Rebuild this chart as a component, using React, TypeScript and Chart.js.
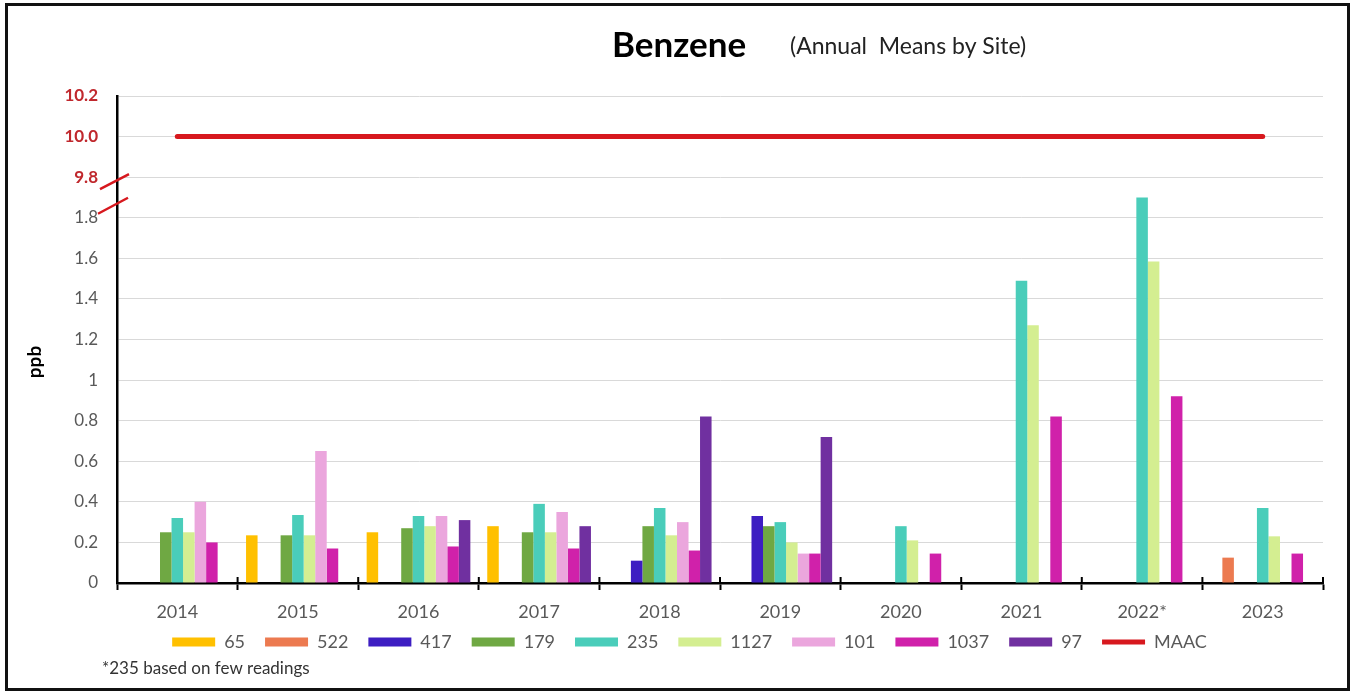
import React, { useEffect, useRef } from "react";
import { Chart, registerables } from "chart.js";

Chart.register(...registerables);

// ---- data ----
const categories = ["2014", "2015", "2016", "2017", "2018", "2019", "2020", "2021", "2022*", "2023"];
const site65 = [null, 0.235, 0.25, 0.28, null, null, null, null, null, null];
const site522 = [null, null, null, null, null, null, null, null, null, 0.125];
const site417 = [null, null, null, null, 0.11, 0.33, null, null, null, null];
const site179 = [0.25, 0.235, 0.27, 0.25, 0.28, 0.28, null, null, null, null];
const site235 = [0.32, 0.335, 0.33, 0.39, 0.37, 0.30, 0.28, 1.49, 1.90, 0.37];
const site1127 = [0.25, 0.235, 0.28, 0.25, 0.235, 0.20, 0.21, 1.27, 1.585, 0.23];
const site101 = [0.40, 0.65, 0.33, 0.35, 0.30, 0.145, null, null, null, null];
const site1037 = [0.20, 0.17, 0.18, 0.17, 0.16, 0.145, 0.145, 0.82, 0.92, 0.145];
const site97 = [null, null, 0.31, 0.28, 0.82, 0.72, null, null, null, null];
const maac = [10, 10, 10, 10, 10, 10, 10, 10, 10, 10];

const seriesNames = ["65", "522", "417", "179", "235", "1127", "101", "1037", "97"];
const seriesData = [site65, site522, site417, site179, site235, site1127, site101, site1037, site97];
const seriesColors = ["#FFC000", "#EC7A50", "#3D1EC2", "#6FA843", "#4ACDBA", "#D4EE91", "#EBA6DD", "#D021AA", "#7030A0"];

// broken axis: 0..1.8 linear, then 9.8 / 10.0 / 10.2 continue above
const lowerTicks = [0, 0.2, 0.4, 0.6, 0.8, 1, 1.2, 1.4, 1.6, 1.8];
const upperTickLabels = ["9.8", "10.0", "10.2"];
const BREAK_LOW = 1.8;
const BREAK_HIGH = 9.8;
const toAxis = (v: number) => (v > BREAK_LOW + 0.2 ? v - (BREAK_HIGH - 2.0) : v);

const TITLE = "Benzene";
const SUBTITLE = "(Annual  Means by Site)";
const Y_TITLE = "ppb";
const FOOTNOTE = "*235 based on few readings";

const RED = "#D7181E";
const GRAY = "#595959";

const decorPlugin = {
  id: "decor",
  afterDraw(chart: any) {
    const { ctx, chartArea, scales } = chart;
    const x = scales.x;
    const y = scales.y;
    ctx.save();
    // title
    ctx.textBaseline = "middle";
    ctx.textAlign = "left";
    ctx.fillStyle = "#000";
    ctx.font = "bold 35px Lato";
    ctx.fillText(TITLE, 612, 46);
    ctx.fillStyle = "#222";
    ctx.font = "23px Lato";
    ctx.fillText(SUBTITLE, 790, 47);
    // y title
    ctx.save();
    ctx.translate(35, 362);
    ctx.rotate(-Math.PI / 2);
    ctx.textAlign = "center";
    ctx.fillStyle = "#000";
    ctx.font = "bold 19px Lato";
    ctx.fillText(Y_TITLE, 0, 0);
    ctx.restore();
    // break marks
    const ax = chartArea.left;
    const y98 = y.getPixelForValue(2.0);
    const y18 = y.getPixelForValue(1.8);
    ctx.strokeStyle = RED;
    ctx.lineWidth = 2.5;
    ctx.lineCap = "butt";
    ctx.beginPath();
    ctx.moveTo(ax - 17, y98 + 12);
    ctx.lineTo(ax + 12, y98 - 3);
    ctx.moveTo(ax - 19, y18 - 4);
    ctx.lineTo(ax + 11, y18 - 20);
    ctx.stroke();
    // inner part of x tick marks
    const n = x.ticks.length;
    const step = x.getPixelForTick(1) - x.getPixelForTick(0);
    ctx.strokeStyle = "#000";
    ctx.lineWidth = 2;
    ctx.beginPath();
    for (let i = 0; i <= n; i++) {
      const px = x.getPixelForTick(0) - step / 2 + i * step;
      ctx.moveTo(px, chartArea.bottom - 6);
      ctx.lineTo(px, chartArea.bottom);
    }
    ctx.stroke();
    // footnote
    ctx.textAlign = "left";
    ctx.textBaseline = "middle";
    ctx.fillStyle = "#333";
    ctx.font = "17px Lato";
    ctx.fillText(FOOTNOTE, 102, 669);
    ctx.restore();
  },
};

export default function App() {
  const ref = useRef<HTMLCanvasElement | null>(null);
  useEffect(() => {
    document.body.style.margin = "0";
    const canvas = ref.current;
    if (!canvas) return;
    Chart.defaults.font.family = "Lato";
    const datasets: any[] = seriesNames.map((name, i) => ({
      type: "bar",
      label: name,
      data: seriesData[i],
      backgroundColor: seriesColors[i],
      borderWidth: 0,
      barPercentage: 1,
      categoryPercentage: 0.86,
    }));
    datasets.push({
      type: "line",
      label: "MAAC",
      data: maac.map(toAxis),
      borderColor: RED,
      backgroundColor: RED,
      borderWidth: 5,
      borderCapStyle: "round",
      pointRadius: 0,
      fill: false,
    });
    const chart = new Chart(canvas, {
      type: "bar",
      data: { labels: categories, datasets },
      plugins: [decorPlugin],
      options: {
        animation: false,
        responsive: false,
        layout: { padding: { top: 96, right: 28, left: 56, bottom: 30 } },
        plugins: {
          title: { display: false },
          tooltip: { enabled: false },
          legend: {
            position: "bottom",
            labels: {
              color: GRAY,
              font: { size: 18 },
              boxWidth: 43,
              boxHeight: 9,
              padding: 20,
              usePointStyle: true,
              pointStyleWidth: 43,
              generateLabels: (c: any) => {
                const items = Chart.defaults.plugins.legend.labels.generateLabels(c);
                return items.map((it: any) => {
                  if (it.text === "MAAC") {
                    return { ...it, pointStyle: "line", lineWidth: 5, strokeStyle: RED, fillStyle: RED };
                  }
                  return { ...it, pointStyle: "rect", lineWidth: 0 };
                });
              },
            },
          },
        },
        scales: {
          x: {
            offset: true,
            grid: {
              display: true,
              drawOnChartArea: false,
              offset: true,
              tickLength: 7,
              tickWidth: 2,
              tickColor: "#000",
            },
            border: { display: true, color: "#000", width: 2.5 },
            ticks: { color: GRAY, font: { size: 18 }, padding: 11, maxRotation: 0 },
            afterFit: (s: any) => {
              s.height = 30;
            },
            afterUpdate: (s: any) => {
              s._computeLabelArea = () => undefined;
            },
          },
          y: {
            min: 0,
            max: 2.4,
            afterBuildTicks: (s: any) => {
              const t = lowerTicks.map((v) => ({ value: v }));
              upperTickLabels.forEach((_, i) => t.push({ value: 2.0 + 0.2 * i }));
              s.ticks = t;
            },
            grid: { color: "#D9D9D9", lineWidth: 1, drawTicks: false },
            border: { display: true, color: "#000", width: 2.5 },
            ticks: {
              padding: 19,
              color: (c: any) => (c.tick && c.tick.value > 1.9 ? "#C0282D" : GRAY),
              font: (c: any) => ({ size: 17, weight: c.tick && c.tick.value > 1.9 ? "bold" : "normal" }),
              callback: (v: any) => {
                const val = Number(v);
                if (val > 1.9) {
                  const idx = Math.round((val - 2.0) / 0.2);
                  return upperTickLabels[idx];
                }
                return String(Number(val.toFixed(1)));
              },
            },
            afterFit: (s: any) => {
              s.width = 61;
            },
            afterUpdate: (s: any) => {
              s._computeLabelArea = () => undefined;
            },
          },
        },
      },
    });
    return () => chart.destroy();
  }, []);
  return (
    <div style={{ position: "fixed", left: 0, top: 0, width: 1351, height: 691, background: "#fff" }}>
      <canvas ref={ref} width={1351} height={691} style={{ position: "absolute", left: 0, top: 0 }} />
      <div
        style={{
          position: "absolute",
          left: 5,
          top: 3,
          width: 1345,
          height: 688,
          border: "3px solid #111",
          boxSizing: "border-box",
          pointerEvents: "none",
        }}
      />
    </div>
  );
}
